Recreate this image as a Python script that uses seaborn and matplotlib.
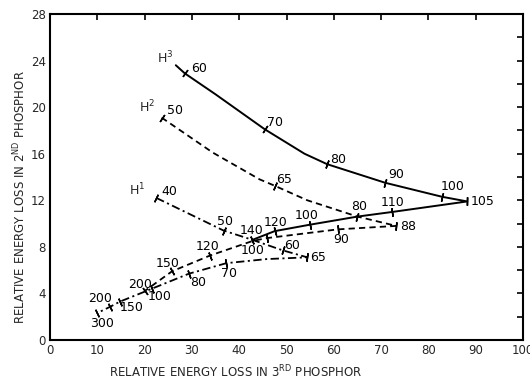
import numpy as np
import pandas as pd
import matplotlib
matplotlib.use('Agg')
import matplotlib.pyplot as plt
from matplotlib.ticker import MultipleLocator
import seaborn as sns

# --- data (x = loss in 3rd phosphor, y = loss in 2nd) ---
# H3 (solid): descending branch then return branch from the turning point
h3_x = [26.6, 28.5, 35.0, 45.4, 53.8, 58.6, 70.9, 82.9, 88.2, 72.4, 65.0, 54.9, 47.5, 42.8]
h3_y = [23.6, 22.9, 21.1, 18.1, 16.0, 15.1, 13.5, 12.3, 11.9, 11.0, 10.6, 9.9, 9.35, 8.6]
h3_lab = ['', '60', '', '70', '', '80', '90', '100', '105', '110', '', '100', '120', '140']

# H2 (dashed)
h2_x = [23.6, 34.4, 44.3, 47.5, 54.4, 65.0, 73.2, 60.8, 45.8, 42.8, 33.8, 25.8, 20.0]
h2_y = [19.1, 16.1, 13.8, 13.25, 12.0, 10.6, 9.8, 9.5, 8.75, 8.5, 7.25, 5.9, 4.2]
h2_lab = ['50', '', '', '65', '', '80', '88', '90', '100', '', '120', '150', '200']

# H1 (dash-dot)
h1_x = [22.5, 36.7, 42.8, 49.2, 54.4, 45.8, 37.3, 29.4, 21.5, 20.0, 14.8, 12.7, 9.9]
h1_y = [12.2, 9.4, 8.6, 7.7, 7.1, 6.95, 6.6, 5.7, 4.4, 4.15, 3.3, 2.85, 2.3]
h1_lab = ['40', '50', '', '60', '65', '', '70', '80', '100', '', '150', '200', '300']

curve_names = ['H$^{3}$', 'H$^{2}$', 'H$^{1}$']

# --- layout of the energy labels (pixel offsets from their tick) ---
h3_off = [(14, 5), (10, 7), (11, 5), (11, 8), (10, 10), (15, 0), (0, 9), (-3, 9), (1, 9), (-1, 9)]
h2_off = [(13, 7), (9, 6), (2, 10), (12, -1), (4, -10), (-14, -12), (-2, 9), (-4, 8), (-5, 7)]
h1_off = [(13, 6), (1, 9), (9, 5), (11, 0), (3, -10), (9, -9), (8, -8), (12, -6), (-10, 8), (5, -10)]
name_pos = [(24.3, 24.2), (20.5, 20.0), (18.4, 12.9)]

sns.set_theme(style='white')
plt.rcParams['font.family'] = ['DejaVu Sans']
plt.rcParams['lines.scale_dashes'] = False

fig = plt.figure(figsize=(5.3, 3.79), dpi=100)
ax = fig.add_axes([50 / 530, 1 - 340 / 379, 473 / 530, 326 / 379])
ax.set_xlim(0, 100)
ax.set_ylim(0, 28)


def unit(v):
    return v / np.hypot(v[0], v[1])


def draw_curve(xs, ys, labs, offs, ls, lw):
    df = pd.DataFrame({'x': xs, 'y': ys})
    sns.lineplot(data=df, x='x', y='y', sort=False, estimator=None,
                 color='black', lw=lw, ls=ls, ax=ax)
    pts = ax.transData.transform(np.column_stack([xs, ys]))
    k = 0
    for i, lab in enumerate(labs):
        if lab == '':
            continue
        p = pts[i]
        a = pts[max(i - 1, 0)]
        b = pts[min(i + 1, len(pts) - 1)]
        if 0 < i < len(pts) - 1 and np.dot(p - a, b - p) < 0:
            # turning point: tick across the axis of the cusp
            axis = unit(p - a) + unit(p - b)
            ang = np.degrees(np.arctan2(axis[1], axis[0]))
        else:
            ang = np.degrees(np.arctan2(b[1] - a[1], b[0] - a[0]))
        ax.plot([xs[i]], [ys[i]], marker=(2, 2, ang), ms=6, mew=1.1,
                color='black', ls='none')
        ax.annotate(lab, (xs[i], ys[i]), xytext=offs[k], textcoords='offset pixels',
                    ha='center', va='center', fontsize=9, color='black')
        k += 1


draw_curve(h3_x, h3_y, h3_lab, h3_off, '-', 1.4)
draw_curve(h2_x, h2_y, h2_lab, h2_off, (0, (4.5, 3)), 1.3)
draw_curve(h1_x, h1_y, h1_lab, h1_off, (0, (6, 2.5, 1.5, 2.5)), 1.3)

for name, (nx_, ny_) in zip(curve_names, name_pos):
    ax.text(nx_, ny_, name, ha='center', va='center', fontsize=9)

ax.set_xlabel('')
ax.set_ylabel('')
ax.set_xticks(range(0, 101, 10))
ax.set_yticks(range(0, 29, 4))
ax.yaxis.set_minor_locator(MultipleLocator(2))
ax.tick_params(which='both', direction='in', top=True, right=True,
               length=4, width=1.2, color='black', labelsize=8.5, pad=3)
for s in ax.spines.values():
    s.set_linewidth(1.5)
    s.set_color('black')

fig.text(236 / 530, 1 - 372 / 379, 'RELATIVE ENERGY LOSS IN 3$^{\\mathrm{RD}}$ PHOSPHOR',
         ha='center', va='center', fontsize=8.5)
fig.text(20 / 530, 1 - 197 / 379, 'RELATIVE ENERGY LOSS IN 2$^{\\mathrm{ND}}$ PHOSPHOR',
         ha='center', va='center', rotation=90, fontsize=8.5)

fig.savefig('out.png', dpi=100)
